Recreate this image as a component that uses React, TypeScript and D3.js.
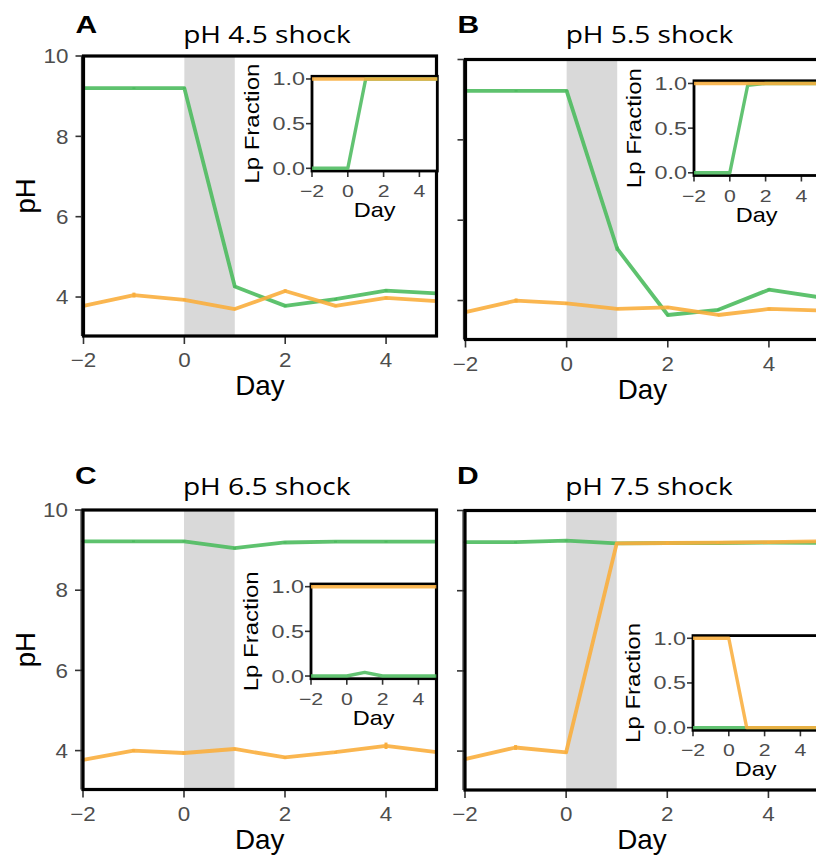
import React from 'react';
import * as d3 from 'd3';

// Sampling days (day 0 = start of the pH shock, lasting one day)
const days = [-2, -1, 0, 1, 2, 3, 4, 5];
const shockWindow = [0, 1];

const panelLetters = ['A', 'B', 'C', 'D'];
const panelTitles = ['pH 4.5 shock', 'pH 5.5 shock', 'pH 6.5 shock', 'pH 7.5 shock'];

const phTicks = [4, 6, 8, 10];
const dayTicks = [-2, 0, 2, 4];
const fractionTicks = [0, 0.5, 1];

// pH of the alkaline (green) and acidic (orange) communities
const alkalinePhA = [9.2, 9.2, 9.2, 4.26, 3.78, 3.95, 4.16, 4.09];
const acidicPhA = [3.78, 4.05, 3.93, 3.7, 4.15, 3.78, 3.98, 3.9];
const alkalinePhB = [9.22, 9.22, 9.22, 5.29, 3.64, 3.77, 4.27, 4.08];
const acidicPhB = [3.71, 4.0, 3.93, 3.79, 3.83, 3.64, 3.79, 3.75];
const alkalinePhC = [9.22, 9.22, 9.22, 9.05, 9.19, 9.21, 9.21, 9.21];
const acidicPhC = [3.77, 4.0, 3.94, 4.04, 3.83, 3.96, 4.12, 3.96];
const alkalinePhD = [9.21, 9.21, 9.25, 9.18, 9.19, 9.19, 9.2, 9.19];
const acidicPhD = [3.8, 4.09, 3.97, 9.18, 9.19, 9.2, 9.21, 9.23];

// standard errors of the pH readings
const alkalineErrA = [0.02, 0.02, 0.02, 0.03, 0.03, 0.03, 0.03, 0.02];
const acidicErrA = [0.02, 0.06, 0.03, 0.02, 0.04, 0.02, 0.03, 0.02];
const alkalineErrB = [0.02, 0.02, 0.02, 0.05, 0.03, 0.03, 0.03, 0.02];
const acidicErrB = [0.02, 0.05, 0.03, 0.02, 0.03, 0.02, 0.03, 0.02];
const alkalineErrC = [0.02, 0.02, 0.02, 0.03, 0.02, 0.02, 0.02, 0.02];
const acidicErrC = [0.02, 0.03, 0.04, 0.02, 0.03, 0.03, 0.08, 0.02];
const alkalineErrD = [0.02, 0.02, 0.02, 0.02, 0.02, 0.02, 0.02, 0.02];
const acidicErrD = [0.02, 0.06, 0.03, 0.02, 0.02, 0.02, 0.02, 0.02];

// Lp fraction in each community
const alkalineLpA = [0, 0, 0, 1, 1, 1, 1, 1];
const acidicLpA = [1, 1, 1, 1, 1, 1, 1, 1];
const alkalineLpB = [0, 0, 0, 0.98, 1, 1, 1, 1];
const acidicLpB = [1, 1, 1, 1, 1, 1, 1, 1];
const alkalineLpC = [0, 0, 0, 0.04, 0, 0, 0, 0];
const acidicLpC = [1, 1, 1, 1, 1, 1, 1, 1];
const alkalineLpD = [0, 0, 0, 0, 0, 0, 0, 0];
const acidicLpD = [1, 1, 1, 0, 0, 0, 0, 0];

const GREEN = '#4cbb5e';
const ORANGE = '#f9ae3d';
const TICK_GREY = '#4d4d4d';
const SANS = '"Liberation Sans", Arial, Helvetica, sans-serif';
const TITLE_FONT = '"Open Sans", "Noto Sans", sans-serif';

type Box = { left: number; top: number; width: number; height: number };

const panelBoxes: Box[] = [
  { left: 83.5, top: 56, width: 353, height: 280 },
  { left: 465.5, top: 59.5, width: 354, height: 280 },
  { left: 83, top: 510, width: 353.5, height: 279.5 },
  { left: 465, top: 510.5, width: 354, height: 279.5 },
];
// inset offsets relative to each panel's top-left corner
const insetOffsets = [
  { dx: 228.5, dy: 20.3 },
  { dx: 228.5, dy: 21.3 },
  { dx: 228, dy: 74 },
  { dx: 228, dy: 125.1 },
];
const INSET_W = 125.3;
const INSET_H = 94.7;

type Txt = {
  x: number;
  y: number;
  text: string;
  size: number;
  sx?: number;
  anchor?: 'start' | 'middle' | 'end';
  rotate?: number;
  family?: string;
  weight?: string | number;
  fill?: string;
  dy?: string;
};

function Label({ x, y, text, size, sx = 1, anchor = 'middle', rotate = 0, family = SANS, weight = 'normal', fill = '#000', dy }: Txt) {
  return (
    <text
      transform={`translate(${x},${y}) rotate(${rotate}) scale(${sx},1)`}
      textAnchor={anchor}
      fontFamily={family}
      fontSize={size}
      fontWeight={weight}
      fill={fill}
      dy={dy}
    >
      {text}
    </text>
  );
}

type PanelProps = {
  index: number;
  alkaline: number[];
  acidic: number[];
  alkalineErr: number[];
  acidicErr: number[];
  alkalineLp: number[];
  acidicLp: number[];
  showYLabels: boolean;
};

function Panel({ index, alkaline, acidic, alkalineErr, acidicErr, alkalineLp, acidicLp, showYLabels }: PanelProps) {
  const box = panelBoxes[index];
  const x = d3.scaleLinear().domain([-2, 5]).range([box.left, box.left + box.width]);
  const y = d3.scaleLinear().domain([3.03, 10]).range([box.top + box.height, box.top]);
  const bottom = box.top + box.height;
  const cx = box.left + box.width / 2;

  const phLine = d3
    .line<number>()
    .x((_, i) => x(days[i]))
    .y((d) => y(d));

  const ib = {
    left: box.left + insetOffsets[index].dx,
    top: box.top + insetOffsets[index].dy,
    width: INSET_W,
    height: INSET_H,
  };
  const ix = d3.scaleLinear().domain([-2, 5]).range([ib.left, ib.left + ib.width]);
  const iy = d3.scaleLinear().domain([-0.03, 1.03]).range([ib.top + ib.height, ib.top]);
  const ibottom = ib.top + ib.height;
  const lpLine = d3
    .line<number>()
    .x((_, i) => ix(days[i]))
    .y((d) => iy(d));

  const series = [
    { values: alkaline, err: alkalineErr, color: GREEN },
    { values: acidic, err: acidicErr, color: ORANGE },
  ];
  const lpSeries = [
    { values: alkalineLp, color: GREEN },
    { values: acidicLp, color: ORANGE },
  ];

  return (
    <g>
      {/* panel letter and title */}
      <Label
        x={box.left - 8}
        y={index < 2 ? 32.5 : 484}
        text={panelLetters[index]}
        size={24}
        sx={1.25}
        anchor="start"
        weight="bold"
      />
      <Label x={cx + 7} y={index < 2 ? 43 : 495} text={panelTitles[index]} size={24} sx={1.17} family={TITLE_FONT} />

      {/* shock window */}
      <rect
        x={x(shockWindow[0])}
        y={box.top}
        width={x(shockWindow[1]) - x(shockWindow[0])}
        height={box.height}
        fill="#d9d9d9"
      />

      {/* pH traces */}
      {series.map((s, k) => (
        <g key={k}>
          <path d={phLine(s.values) || ''} fill="none" stroke={s.color} strokeWidth={3.8} strokeOpacity={0.9} strokeLinejoin="round" />
          {s.values.map((v, i) => (
            <line
              key={i}
              x1={x(days[i])}
              x2={x(days[i])}
              y1={y(v - s.err[i])}
              y2={y(v + s.err[i])}
              stroke={s.color}
              strokeWidth={3}
            />
          ))}
        </g>
      ))}

      {/* y axis */}
      <line x1={box.left - 2} x2={box.left - 2} y1={box.top} y2={bottom} stroke="#333" strokeWidth={1.2} />
      {phTicks.map((t) => (
        <g key={t}>
          <line x1={box.left - 8} x2={box.left} y1={y(t)} y2={y(t)} stroke="#333" strokeWidth={1.6} />
          {showYLabels && (
            <Label x={box.left - 15} y={y(t)} dy="0.36em" text={String(t)} size={20} sx={1.12} anchor="end" fill={TICK_GREY} />
          )}
        </g>
      ))}
      {showYLabels && <Label x={35} y={box.top + box.height / 2} text="pH" size={27} sx={1.02} rotate={-90} />}

      {/* x axis */}
      {dayTicks.map((t) => (
        <g key={t}>
          <line x1={x(t)} x2={x(t)} y1={bottom} y2={bottom + 8} stroke="#333" strokeWidth={1.6} />
          <Label x={x(t)} y={bottom + 31} text={t < 0 ? `\u2212${Math.abs(t)}` : String(t)} size={20} sx={1.12} fill={TICK_GREY} />
        </g>
      ))}
      <Label x={cx} y={bottom + 59} text="Day" size={27} sx={1.03} />

      {/* panel frame */}
      <rect x={box.left} y={box.top} width={box.width} height={box.height} fill="none" stroke="#000" strokeWidth={3.2} />

      {/* inset: Lp fraction */}
      <rect x={ib.left} y={ib.top} width={ib.width} height={ib.height} fill="#fff" />
      {fractionTicks.map((t) => (
        <g key={t}>
          <line x1={ib.left - 6} x2={ib.left} y1={iy(t)} y2={iy(t)} stroke="#333" strokeWidth={1.6} />
          <Label x={ib.left - 7} y={iy(t)} dy="0.36em" text={t.toFixed(1)} size={18} sx={1.3} anchor="end" fill={TICK_GREY} />
        </g>
      ))}
      {dayTicks.map((t) => (
        <g key={t}>
          <line x1={ix(t)} x2={ix(t)} y1={ibottom} y2={ibottom + 6} stroke="#333" strokeWidth={1.6} />
          <Label x={ix(t)} y={ibottom + 26} text={t < 0 ? `\u2212${Math.abs(t)}` : String(t)} size={17} sx={1.25} fill={TICK_GREY} />
        </g>
      ))}
      <Label x={ib.left + ib.width / 2} y={ibottom + 46} text="Day" size={21} sx={1.12} />
      <Label x={ib.left - 53} y={ib.top + ib.height / 2} text="Lp Fraction" size={20} sx={1.2} rotate={-90} />
      <rect x={ib.left} y={ib.top} width={ib.width} height={ib.height} fill="none" stroke="#000" strokeWidth={2.8} />
      {lpSeries.map((s, k) => (
        <path key={k} d={lpLine(s.values) || ''} fill="none" stroke={s.color} strokeWidth={3.4} strokeOpacity={0.88} strokeLinejoin="round" />
      ))}
    </g>
  );
}

export default function App() {
  return (
    <svg
      width={816}
      height={856}
      viewBox="0 0 816 856"
      style={{ position: 'absolute', left: 0, top: 0, background: '#fff' }}
    >
      <rect x={0} y={0} width={816} height={856} fill="#fff" />
      <Panel index={0} alkaline={alkalinePhA} acidic={acidicPhA} alkalineErr={alkalineErrA} acidicErr={acidicErrA} alkalineLp={alkalineLpA} acidicLp={acidicLpA} showYLabels />
      <Panel index={1} alkaline={alkalinePhB} acidic={acidicPhB} alkalineErr={alkalineErrB} acidicErr={acidicErrB} alkalineLp={alkalineLpB} acidicLp={acidicLpB} showYLabels={false} />
      <Panel index={2} alkaline={alkalinePhC} acidic={acidicPhC} alkalineErr={alkalineErrC} acidicErr={acidicErrC} alkalineLp={alkalineLpC} acidicLp={acidicLpC} showYLabels />
      <Panel index={3} alkaline={alkalinePhD} acidic={acidicPhD} alkalineErr={alkalineErrD} acidicErr={acidicErrD} alkalineLp={alkalineLpD} acidicLp={acidicLpD} showYLabels={false} />
    </svg>
  );
}
